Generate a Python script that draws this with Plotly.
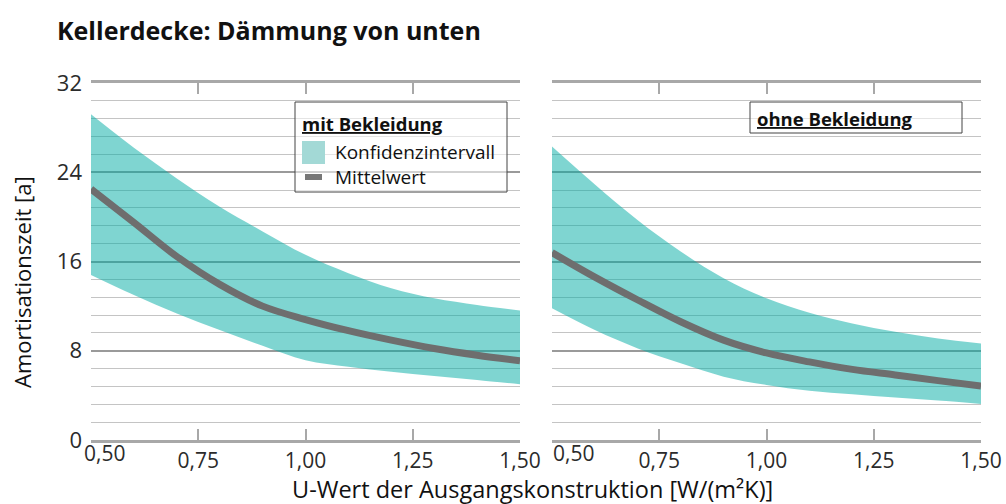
import plotly.graph_objects as go

# ---------------- data ----------------
u_values = [0.5, 0.6, 0.7, 0.8, 0.9, 1.0, 1.1, 1.2, 1.3, 1.4, 1.5]

mit_mean = [22.5, 19.5, 16.45, 13.95, 12.0, 10.8, 9.8, 8.95, 8.2, 7.6, 7.1]
mit_upper = [29.2, 26.2, 23.45, 20.9, 18.7, 16.6, 14.95, 13.6, 12.7, 12.1, 11.6]
mit_lower = [14.8, 13.0, 11.35, 9.85, 8.45, 7.15, 6.57, 6.12, 5.74, 5.38, 5.0]

ohne_mean = [16.8, 14.6, 12.55, 10.6, 8.95, 7.8, 7.0, 6.33, 5.83, 5.32, 4.84]
ohne_upper = [26.3, 22.9, 19.7, 16.9, 14.5, 12.7, 11.4, 10.45, 9.7, 9.1, 8.65]
ohne_lower = [11.8, 9.85, 8.2, 6.87, 5.68, 4.93, 4.42, 4.1, 3.8, 3.53, 3.23]

x_ticks = [0.5, 0.75, 1.0, 1.25, 1.5]
y_ticks = [0, 8, 16, 24, 32]

title_text = "Kellerdecke: Dämmung von unten"
y_title = "Amortisationszeit [a]"
x_title = "U-Wert der Ausgangskonstruktion [W/(m²K)]"
panel_labels = ["mit Bekleidung", "ohne Bekleidung"]
legend_labels = ["Konfidenzintervall", "Mittelwert"]

# ---------------- styles ----------------
FONT = "Open Sans"
BAND = "rgba(0,171,163,0.5)"
MEAN = "#6e6e6e"
AXIS = "#a8a8a8"
TXT = "#2b2b2b"

W, H = 1006, 504
# plot area in page pixels
PX0, PX1, PY0, PY1 = 91, 981, 83, 440
L, T = PX0, PY0
R = W - PX1
B = H - PY1
PW = PX1 - PX0
PH = PY1 - PY0


def px(x):
    return (x - PX0) / PW


def py(y):
    return (PY1 - y) / PH


fig = go.Figure()

panels = [
    ("x", "y", mit_lower, mit_upper, mit_mean),
    ("x2", "y2", ohne_lower, ohne_upper, ohne_mean),
]
for xa, ya, lo, up, me in panels:
    fig.add_trace(go.Scatter(x=u_values, y=lo, xaxis=xa, yaxis=ya, mode="lines",
                             line=dict(width=0, shape="spline", smoothing=1.0),
                             showlegend=False, hoverinfo="skip"))
    fig.add_trace(go.Scatter(x=u_values, y=up, xaxis=xa, yaxis=ya, mode="lines",
                             line=dict(width=0, shape="spline", smoothing=1.0),
                             fill="tonexty", fillcolor=BAND,
                             showlegend=False, hoverinfo="skip"))
    fig.add_trace(go.Scatter(x=u_values, y=me, xaxis=xa, yaxis=ya, mode="lines",
                             line=dict(width=7, color=MEAN, shape="spline", smoothing=1.0),
                             showlegend=False))

tick_text = ["" if v == 0.5 else f"{v:.2f}".replace(".", ",") for v in x_ticks]

xaxis_common = dict(
    range=[0.5, 1.5], tickmode="array", tickvals=x_ticks, ticktext=tick_text,
    showline=True, linecolor=AXIS, linewidth=3, mirror="ticks",
    ticks="inside", ticklen=11, tickwidth=2, tickcolor=AXIS,
    showgrid=False, zeroline=False, automargin=False,
    tickfont=dict(family=FONT, size=21, color=TXT),
)
yaxis_common = dict(
    range=[0, 32], tickmode="array", tickvals=y_ticks,
    showline=False, zeroline=False, automargin=False,
    showgrid=True, gridcolor="#9a9a9a", gridwidth=2,
    minor=dict(tickmode="linear", tick0=0, dtick=1.6, showgrid=True,
               gridcolor="#c4c4c4", gridwidth=1),
    tickfont=dict(family=FONT, size=22, color=TXT), ticks="",
)

fig.update_layout(
    width=W, height=H, autosize=False,
    margin=dict(l=L, r=R, t=T, b=B, pad=0, autoexpand=False),
    plot_bgcolor="white", paper_bgcolor="white",
    showlegend=False,
    title=dict(text=f"<b>{title_text}</b>", x=57 / W, xanchor="left", xref="container",
               y=1 - 31 / H, yanchor="middle", yref="container",
               font=dict(family=FONT, size=25, color="#111111")),
    xaxis=dict(domain=[0, 429 / PW], anchor="y", **xaxis_common),
    xaxis2=dict(domain=[461 / PW, 1], anchor="y2", **xaxis_common),
    yaxis=dict(domain=[0, 1], anchor="x", showticklabels=True, ticklabelstandoff=8,
               **yaxis_common),
    yaxis2=dict(domain=[0, 1], anchor="x2", showticklabels=False, **yaxis_common),
)

annotations = []
# left-aligned first tick labels
for xr, shift in (("x", -9), ("x2", -1)):
    annotations.append(dict(x=x_ticks[0], xref=xr, y=py(453), yref="paper",
                            text=f"{x_ticks[0]:.2f}".replace(".", ","), showarrow=False,
                            xanchor="left", yanchor="middle", xshift=shift,
                            font=dict(family=FONT, size=21, color=TXT)))
# axis titles
annotations.append(dict(x=px(532), xref="paper", y=py(489), yref="paper", text=x_title,
                        showarrow=False, xanchor="center", yanchor="middle",
                        font=dict(family=FONT, size=23.5, color="#111111")))
annotations.append(dict(x=px(22), xref="paper", y=py(282), yref="paper", text=y_title,
                        showarrow=False, textangle=-90, xanchor="center", yanchor="middle",
                        font=dict(family=FONT, size=22, color="#111111")))

shapes = []
# legend box left
shapes.append(dict(type="rect", xref="paper", yref="paper",
                   x0=px(295), x1=px(507), y0=py(102), y1=py(192),
                   line=dict(color="#444444", width=1), fillcolor="rgba(255,255,255,0.55)"))
shapes.append(dict(type="rect", xref="paper", yref="paper",
                   x0=px(302), x1=px(325), y0=py(141), y1=py(164),
                   line=dict(width=0), fillcolor="#a3d9d6"))
shapes.append(dict(type="line", xref="paper", yref="paper",
                   x0=px(305), x1=px(322), y0=py(177), y1=py(177),
                   line=dict(color="#777777", width=6)))
# legend box right
shapes.append(dict(type="rect", xref="paper", yref="paper",
                   x0=px(750), x1=px(962), y0=py(102), y1=py(133),
                   line=dict(color="#444444", width=1), fillcolor="rgba(255,255,255,0.55)"))

annotations.append(dict(x=px(300), xref="paper", y=py(123), yref="paper",
                        text=f"<b><u>{panel_labels[0]}</u></b>", showarrow=False,
                        xanchor="left", yanchor="middle",
                        font=dict(family=FONT, size=18.5, color="#111111")))
annotations.append(dict(x=px(333), xref="paper", y=py(152), yref="paper",
                        text=legend_labels[0], showarrow=False,
                        xanchor="left", yanchor="middle",
                        font=dict(family=FONT, size=19, color="#111111")))
annotations.append(dict(x=px(333), xref="paper", y=py(177), yref="paper",
                        text=legend_labels[1], showarrow=False,
                        xanchor="left", yanchor="middle",
                        font=dict(family=FONT, size=19, color="#111111")))
annotations.append(dict(x=px(755), xref="paper", y=py(118), yref="paper",
                        text=f"<b><u>{panel_labels[1]}</u></b>", showarrow=False,
                        xanchor="left", yanchor="middle",
                        font=dict(family=FONT, size=18.5, color="#111111")))

fig.update_layout(annotations=annotations, shapes=shapes)

# remove default page margins / scrollbars so the figure sits at the page origin
page_fix = ("document.body.style.margin='0';document.body.style.padding='0';"
            "document.body.style.overflow='hidden';"
            "document.documentElement.style.overflow='hidden';")

fig.write_html("out.html", post_script=page_fix, config={"displayModeBar": False})
